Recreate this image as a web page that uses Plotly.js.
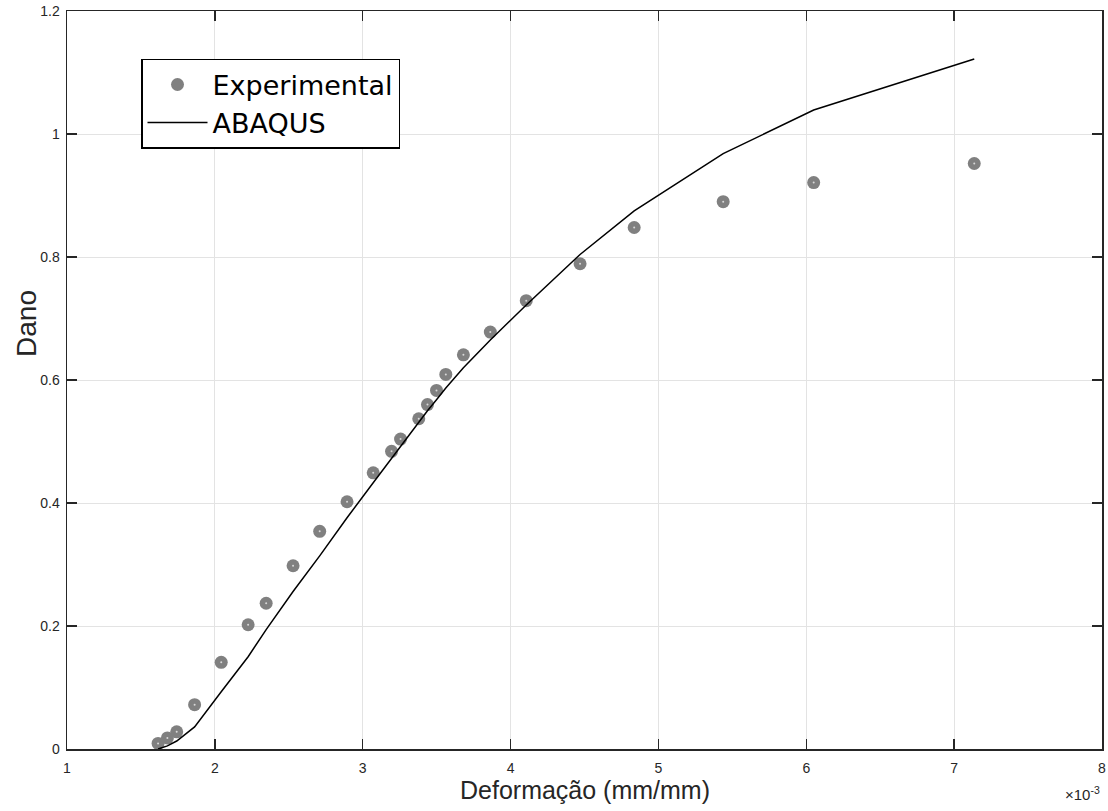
<!DOCTYPE html>
<html>
<head>
<meta charset="utf-8">
<script src="https://cdn.plot.ly/plotly-3.0.1.min.js"></script>
<style>html,body{margin:0;padding:0;background:#fff;}#chart{width:1108px;height:811px;}</style>
</head>
<body>
<div id="chart"></div>
<script>
// Strain values (x 10^-3)
const expStrain = [1.616, 1.679, 1.742, 1.863, 2.043, 2.225, 2.347, 2.529, 2.709, 2.894,
  3.071, 3.195, 3.256, 3.379, 3.438, 3.499, 3.562, 3.681, 3.863, 4.106,
  4.470, 4.836, 5.438, 6.050, 7.136];
const expDamage = [0.009, 0.018, 0.028, 0.072, 0.141, 0.202, 0.237, 0.298, 0.354, 0.402,
  0.449, 0.484, 0.504, 0.537, 0.560, 0.583, 0.609, 0.641, 0.678, 0.729,
  0.789, 0.848, 0.890, 0.921, 0.952];
const abaqusStrain = [1.616, 1.679, 1.742, 1.863, 2.043, 2.225, 2.347, 2.529, 2.709, 2.894,
  3.071, 3.195, 3.256, 3.379, 3.438, 3.499, 3.562, 3.681, 3.863, 4.106,
  4.470, 4.836, 5.438, 6.050, 7.136];
const abaqusDamage = [0.000, 0.005, 0.013, 0.036, 0.093, 0.150, 0.194, 0.256, 0.314, 0.376,
  0.433, 0.473, 0.492, 0.531, 0.550, 0.568, 0.587, 0.620, 0.665, 0.722,
  0.804, 0.875, 0.968, 1.039, 1.122];
const xTicks = [1, 2, 3, 4, 5, 6, 7, 8];
const yTicks = [0, 0.2, 0.4, 0.6, 0.8, 1, 1.2];

const traces = [
  {
    x: expStrain, y: expDamage, mode: 'markers', type: 'scatter', name: 'Experimental',
    marker: {color: '#808080', size: 13}
  },
  {
    x: expStrain, y: expDamage, mode: 'markers', type: 'scatter', showlegend: false, hoverinfo: 'skip',
    marker: {color: '#d8d8d8', size: 2}
  },
  {
    x: abaqusStrain, y: abaqusDamage, mode: 'lines', type: 'scatter', name: 'ABAQUS',
    line: {color: '#000000', width: 1.5}
  }
];

const layout = {
  width: 1108, height: 811,
  margin: {l: 67, r: 6, t: 11, b: 62},
  paper_bgcolor: '#ffffff', plot_bgcolor: '#ffffff',
  showlegend: true,
  legend: {
    x: 0.0715, y: 0.935, xanchor: 'left', yanchor: 'top',
    bordercolor: '#000000', borderwidth: 1.5, bgcolor: '#ffffff',
    font: {family: 'DejaVu Sans, sans-serif', size: 27, color: '#000000'},
    tracegroupgap: 0, itemwidth: 60
  },
  xaxis: {
    range: [1, 8], tickvals: xTicks,
    showline: true, linecolor: '#262626', linewidth: 1.5, mirror: 'ticks',
    ticks: 'inside', ticklen: 10, tickwidth: 1.5, tickcolor: '#262626',
    gridcolor: '#e3e3e3', zeroline: false, ticklabeloverflow: 'allow', ticklabelstandoff: 6,
    tickfont: {family: 'Arial, sans-serif', size: 14, color: '#262626'}
  },
  yaxis: {
    range: [0, 1.2], tickvals: yTicks,
    showline: true, linecolor: '#262626', linewidth: 1.5, mirror: 'ticks',
    ticks: 'inside', ticklen: 10, tickwidth: 1.5, tickcolor: '#262626',
    gridcolor: '#e3e3e3', zeroline: false, ticklabeloverflow: 'allow', ticklabelstandoff: 3,
    tickfont: {family: 'Arial, sans-serif', size: 14, color: '#262626'}
  },
  annotations: [
    {
      xref: 'paper', yref: 'paper', x: 0.5, y: -0.0556, xanchor: 'center', yanchor: 'middle',
      text: 'Deformação (mm/mm)', showarrow: false,
      font: {family: 'Arial, sans-serif', size: 25, color: '#262626'}
    },
    {
      xref: 'paper', yref: 'paper', x: -0.0386, y: 0.576, xanchor: 'center', yanchor: 'middle',
      text: 'Dano', showarrow: false, textangle: -90,
      font: {family: 'Arial, sans-serif', size: 28, color: '#262626'}
    },
    {
      xref: 'paper', yref: 'paper', x: 1.0, y: -0.045, xanchor: 'right', yanchor: 'top',
      text: '×10<sup>-3</sup>', showarrow: false,
      font: {family: 'Arial, sans-serif', size: 15, color: '#262626'}
    }
  ]
};

Plotly.newPlot('chart', traces, layout, {displayModeBar: false, staticPlot: true});
</script>
</body>
</html>
